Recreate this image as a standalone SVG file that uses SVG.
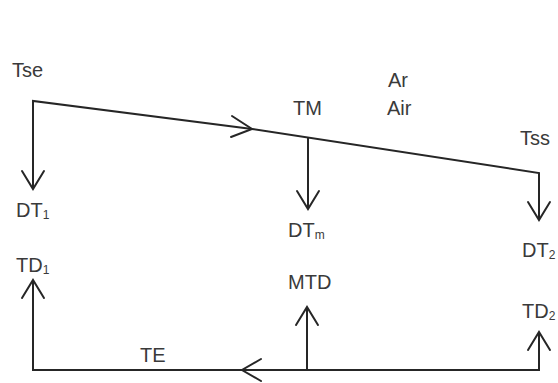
<svg xmlns="http://www.w3.org/2000/svg" width="558" height="383" viewBox="0 0 558 383">
  <style>
    .lbl { font-family: "Liberation Sans", Arial, sans-serif; font-size: 20px; fill: #3a3a3a; }
    .sub { font-size: 12px; }
    .wire { fill: none; stroke: #262626; stroke-width: 2; stroke-linejoin: miter; }
    .head { fill: none; stroke: #262626; stroke-width: 2; stroke-linecap: round; stroke-linejoin: miter; }
  </style>
  <rect width="558" height="383" fill="#ffffff"/>

  <!-- connectors: hot stream on top, cold stream below -->
  <g id="connectors">
    <!-- top stream: inlet down to DT1, sloped run to outlet down to DT2 -->
    <path class="wire" d="M33,188 V101 L252,129 L539,173 V219"/>
    <path class="head" d="M232,116 L252,129 L231,137"/>
    <path class="head" d="M22,171 L33,189 L44,171"/>
    <path class="wire" d="M308,138 V208"/>
    <path class="head" d="M297,191 L308,209 L319,191"/>
    <path class="head" d="M528,202 L539,220 L550,202"/>

    <!-- bottom stream: flows right to left -->
    <path class="wire" d="M33,281 V370 H539 V333"/>
    <path class="head" d="M261,359 L242,370 L261,381"/>
    <path class="head" d="M22,298 L33,280 L44,298"/>
    <path class="wire" d="M307,370 V308"/>
    <path class="head" d="M296,325 L307,307 L318,325"/>
    <path class="head" d="M528,350 L539,332 L550,350"/>
  </g>

  <g id="node-tse"><text class="lbl" x="12" y="77">Tse</text></g>
  <g id="node-tm"><text class="lbl" x="293" y="115">TM</text></g>
  <g id="node-air">
    <text class="lbl" x="388" y="87">Ar</text>
    <text class="lbl" x="387" y="115">Air</text>
  </g>
  <g id="node-tss"><text class="lbl" x="520" y="145">Tss</text></g>
  <g id="node-dt1"><text class="lbl" x="16" y="217">DT<tspan class="sub" dy="2">1</tspan></text></g>
  <g id="node-td1"><text class="lbl" x="16" y="272">TD<tspan class="sub" dy="2">1</tspan></text></g>
  <g id="node-dtm"><text class="lbl" x="288" y="237">DT<tspan class="sub" dy="2">m</tspan></text></g>
  <g id="node-mtd"><text class="lbl" x="288" y="289">MTD</text></g>
  <g id="node-dt2"><text class="lbl" x="522" y="257">DT<tspan class="sub" dy="2">2</tspan></text></g>
  <g id="node-td2"><text class="lbl" x="522" y="318">TD<tspan class="sub" dy="2">2</tspan></text></g>
  <g id="node-te"><text class="lbl" x="140" y="362">TE</text></g>
</svg>
